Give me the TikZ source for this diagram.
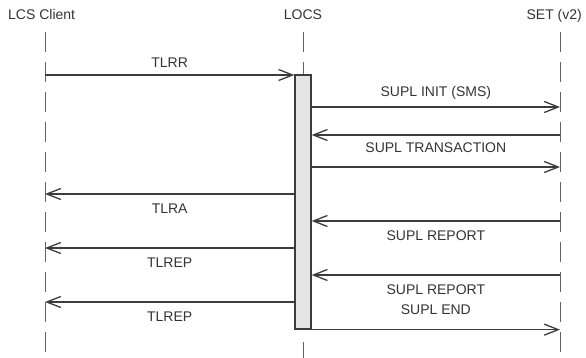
\documentclass[tikz,border=0pt]{standalone}
\usepackage{fontspec}
\setmainfont{Liberation Sans}
\usetikzlibrary{arrows.meta, positioning, calc}
\definecolor{lineGray}{HTML}{3C3C3C}
\definecolor{textGray}{HTML}{333333}
\definecolor{barGray}{HTML}{E4E4E4}
\tikzset{
    head/.style={font=\fontsize{14}{16}\selectfont, text=textGray, inner sep=0pt},
    lifeline/.style={draw=lineGray!80, line width=1pt, dash pattern=on 20pt off 10pt},
    msg/.style={-{Straight Barb[length=14pt, width=11pt]}, line width=1.3pt, draw=lineGray},
    msglabel/.style={font=\fontsize{14}{20}\selectfont, text=textGray, align=center, inner sep=0pt},
    actbar/.style={rectangle, draw=lineGray, fill=barGray, line width=1.3pt, minimum width=16pt, minimum height=254pt, inner sep=0pt}
}

\begin{document}
\begin{tikzpicture}[x=1pt, y=-1pt]
        \useasboundingbox (0,0) rectangle (586,358);
        % participants
        \node[head, anchor=base west] (client) at (8,20) {LCS Client};
        \node[head, anchor=base] (locs) at (303,20) {LOCS};
        \node[head, anchor=base east] (set) at (582,20) {SET (v2)};

        \coordinate (clientTop) at (45,32);
        \coordinate (locsTop) at (303,32);
        \coordinate (setTop) at (560,32);

        % lifelines
        \draw[lifeline] (clientTop) -- (clientTop |- 0,358);
        \draw[lifeline] (setTop) -- (setTop |- 0,358);
        \node[actbar] (bar) at (303,202) {};
        \draw[lifeline] (locsTop) -- (bar.north);
        \draw[lifeline] (locsTop |- 0,342) -- (locsTop |- 0,358);

        % messages
        \draw[msg] (clientTop |- 0,75) -- node[msglabel, above=7pt] (tlrr) {TLRR} (bar.west |- 0,75);
        \draw[msg] (bar.east |- 0,107) -- node[msglabel, above=7pt] (suplinit) {SUPL INIT (SMS)} (setTop |- 0,107);
        \draw[msg] (setTop |- 0,135) -- node[msglabel, below=7pt] (supltrans) {SUPL TRANSACTION} (bar.east |- 0,135);
        \draw[msg] (bar.east |- 0,167) -- (setTop |- 0,167);
        \draw[msg] (bar.west |- 0,194) -- node[msglabel, below=9pt] (tlra) {TLRA} (clientTop |- 0,194);
        \draw[msg] (setTop |- 0,221) -- node[msglabel, below=9pt] (suplrep) {SUPL REPORT} (bar.east |- 0,221);
        \draw[msg] (bar.west |- 0,248) -- node[msglabel, below=9pt] (tlrep) {TLREP} (clientTop |- 0,248);
        \draw[msg] (setTop |- 0,275) -- node[msglabel, below=9pt] (suplend) {SUPL REPORT\\SUPL END} (bar.east |- 0,275);
        \draw[msg] (bar.west |- 0,302) -- node[msglabel, below=9pt] (tlrep2) {TLREP} (clientTop |- 0,302);
        \draw[msg] (bar.south east) -- (setTop |- bar.south);
    \end{tikzpicture}
\end{document}
